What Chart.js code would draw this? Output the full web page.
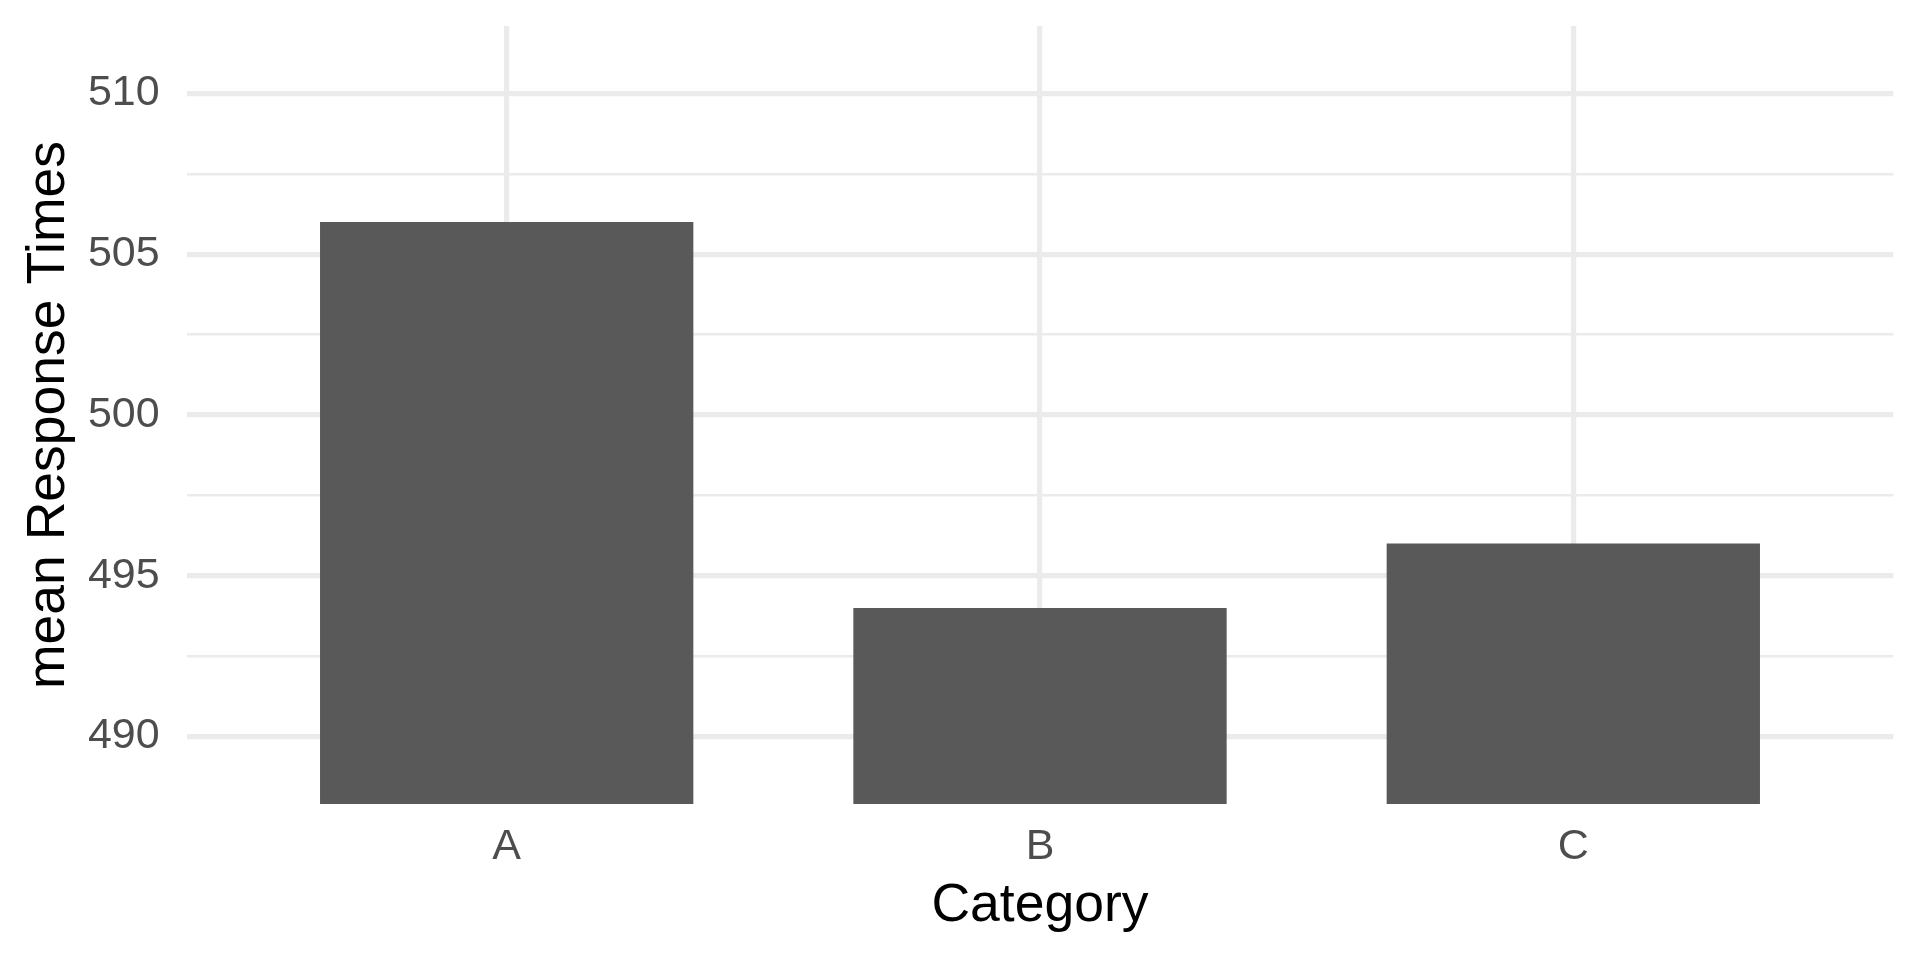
<!DOCTYPE html>
<html>
<head>
<meta charset="utf-8">
<style>
  html, body { margin: 0; padding: 0; background: #ffffff; }
  canvas { display: block; }
</style>
<script src="https://cdn.jsdelivr.net/npm/chart.js@4.4.1/dist/chart.umd.min.js"></script>
</head>
<body>
<canvas id="c" width="1920" height="960"></canvas>
<script>
// ---- data ----
const categories = ['A', 'B', 'C'];
const meanResponseTimes = [506, 494, 496];
const yTickValues = [490, 492.5, 495, 497.5, 500, 502.5, 505, 507.5, 510];
const yTickLabels = ['490', '', '495', '', '500', '', '505', '', '510'];
const yRange = [487.9, 512.1];
const xRange = [0.4, 3.6];
const xTitle = 'Category';
const yTitle = 'mean Response Times';

const FONT = '"Liberation Sans", Arial, Helvetica, sans-serif';
const points = categories.map((c, i) => ({ x: i + 1, y: meanResponseTimes[i] }));

new Chart(document.getElementById('c'), {
  type: 'bar',
  data: {
    datasets: [{
      data: points,
      backgroundColor: '#595959',
      borderWidth: 0,
      barPercentage: 0.7,
      categoryPercentage: 1.0
    }]
  },
  options: {
    responsive: false,
    devicePixelRatio: 1,
    animation: false,
    layout: { padding: { top: 26, right: 26.7, left: 0, bottom: 0 } },
    plugins: { legend: { display: false }, tooltip: { enabled: false } },
    scales: {
      x: {
        type: 'linear',
        offset: false,
        min: xRange[0],
        max: xRange[1],
        afterBuildTicks: (s) => { s.ticks = categories.map((c, i) => ({ value: i + 1 })); },
        afterFit: (s) => { s.height = 156; s.paddingLeft = 0; s.paddingRight = 0; },
        border: { display: false },
        grid: { offset: false, color: '#EBEBEB', lineWidth: 5.2, drawTicks: false },
        ticks: {
          padding: 17,
          color: '#4D4D4D',
          font: { family: FONT, size: 43 },
          maxRotation: 0,
          autoSkip: false,
          callback: (v) => categories[Math.round(v) - 1] ?? ''
        },
        title: {
          display: true,
          text: xTitle,
          color: '#000000',
          font: { family: FONT, size: 53.5 },
          padding: { top: 0, bottom: 22 }
        }
      },
      y: {
        type: 'linear',
        min: yRange[0],
        max: yRange[1],
        afterBuildTicks: (s) => { s.ticks = yTickValues.map(v => ({ value: v })); },
        afterFit: (s) => { s.width = 186.7; s.paddingTop = 0; s.paddingBottom = 0; },
        border: { display: false },
        grid: {
          color: '#EBEBEB',
          drawTicks: false,
          lineWidth: (ctx) => {
            const i = yTickValues.indexOf(ctx.tick ? ctx.tick.value : NaN);
            return (i >= 0 && yTickLabels[i] !== '') ? 5.2 : 2.6;
          }
        },
        ticks: {
          padding: 27,
          color: '#4D4D4D',
          font: { family: FONT, size: 43 },
          autoSkip: false,
          callback: (v) => {
            const i = yTickValues.indexOf(v);
            return i >= 0 ? yTickLabels[i] : '';
          }
        },
        title: {
          display: true,
          text: yTitle,
          color: '#000000',
          font: { family: FONT, size: 53.5 },
          padding: { top: 17, bottom: 0 }
        }
      }
    }
  }
});
</script>
</body>
</html>
